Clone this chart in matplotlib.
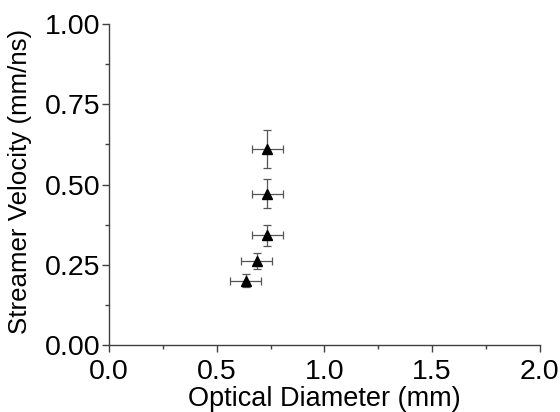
import matplotlib
matplotlib.use("Agg")
import matplotlib.pyplot as plt
from matplotlib.ticker import MultipleLocator

# data
diameter = [0.635, 0.685, 0.735, 0.735, 0.735]
diameter_err = [0.072, 0.072, 0.072, 0.072, 0.072]
velocity = [0.200, 0.262, 0.342, 0.472, 0.610]
velocity_err = [0.020, 0.025, 0.033, 0.046, 0.060]

plt.rcParams['font.family'] = ['Liberation Sans', 'DejaVu Sans']

fig = plt.figure(figsize=(5.6, 4.12), dpi=100)
ax = fig.add_axes([0.1946, 0.1626, 0.7695, 0.7791])

ax.errorbar(diameter, velocity, xerr=diameter_err, yerr=velocity_err,
            fmt='^', color='black', markersize=7.5,
            ecolor='#555555', elinewidth=0.9, capsize=3, capthick=0.9)

ax.set_xlim(0, 2.0)
ax.set_ylim(0, 1.0)
ax.xaxis.set_major_locator(MultipleLocator(0.5))
ax.xaxis.set_minor_locator(MultipleLocator(0.25))
ax.yaxis.set_major_locator(MultipleLocator(0.25))
ax.yaxis.set_minor_locator(MultipleLocator(0.125))
ax.xaxis.set_major_formatter(plt.FormatStrFormatter('%.1f'))
ax.yaxis.set_major_formatter(plt.FormatStrFormatter('%.2f'))

for side in ['top', 'right']:
    ax.spines[side].set_visible(False)
for side in ['left', 'bottom']:
    ax.spines[side].set_color('#404040')
    ax.spines[side].set_linewidth(1.0)

ax.tick_params(which='major', direction='out', length=5, width=1,
               color='#404040', labelsize=20.5)
ax.tick_params(axis='y', which='major', pad=1)
ax.tick_params(axis='x', which='major', pad=5)
ax.tick_params(which='minor', direction='out', length=3, width=1,
               color='#404040')

ax.set_xlabel('Optical Diameter (mm)', fontsize=19.5, labelpad=0.5)
ax.set_ylabel('Streamer Velocity (mm/ns)', fontsize=18.6)
ax.yaxis.set_label_coords(-0.178, 0.51)

fig.savefig('out.png', dpi=100)
